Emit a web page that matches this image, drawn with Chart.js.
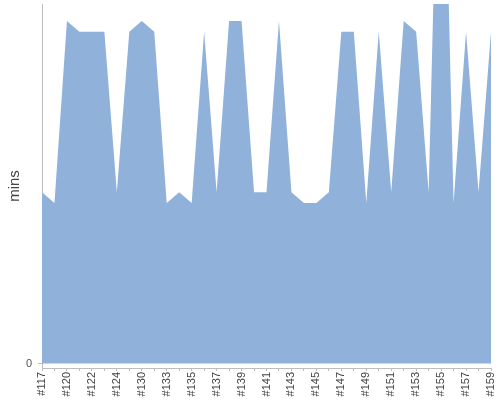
<!DOCTYPE html>
<html lang="en">
<head>
  <meta charset="UTF-8">
  <title>Build time trend</title>
  <script src="https://cdn.jsdelivr.net/npm/chart.js"></script>
  <style>
    html, body { margin: 0; padding: 0; background: #fff; }
    #wrap { width: 500px; height: 400px; }
  </style>
</head>
<body>
<div id="wrap">
  <canvas id="trendChart"></canvas>
</div>

<script>
  // build numbers (every other one is labelled on the axis)
  const builds = [
    '#117', '#118', '#120', '#121', '#122', '#123', '#124', '#128', '#130', '#131',
    '#133', '#134', '#135', '#136', '#137', '#138', '#139', '#140', '#141', '#142',
    '#143', '#144', '#145', '#146', '#147', '#148', '#149', '#150', '#151', '#152',
    '#153', '#154', '#155', '#156', '#157', '#158', '#159'
  ];

  // build duration in minutes (#155 runs off the top)
  const buildMins = [
    16, 15, 32, 31, 31, 31, 16, 31, 32, 31,
    15, 16, 15, 31, 16, 32, 32, 16, 16, 32,
    16, 15, 15, 16, 31, 31, 15, 31, 16, 32,
    31, 16, 63, 15, 31, 16, 31
  ];

  const yMin = -0.42;
  const yMax = 33.6;
  const yTicks = [0];

  const axisGray = '#bdbdbd';
  const textGray = '#444';

  const ctx = document.getElementById('trendChart').getContext('2d');
  const trendChart = new Chart(ctx, {
    type: 'line',
    data: {
      labels: builds,
      datasets: [{
        label: 'mins',
        data: buildMins,
        fill: 'origin',
        backgroundColor: '#8fb1da',
        borderWidth: 0,
        pointRadius: 0,
        tension: 0
      }]
    },
    options: {
      responsive: true,
      maintainAspectRatio: false,
      animation: false,
      layout: { padding: { top: 4, right: 9, bottom: 0, left: 0 } },
      plugins: {
        legend: { display: false },
        tooltip: { enabled: false }
      },
      scales: {
        x: {
          offset: false,
          grid: {
            display: true,
            drawOnChartArea: false,
            tickLength: 3,
            color: axisGray
          },
          border: { display: true, color: axisGray, width: 1 },
          ticks: {
            autoSkip: false,
            minRotation: 90,
            maxRotation: 90,
            padding: 1,
            color: textGray,
            font: { family: 'Liberation Sans, Arial, sans-serif', size: 11 },
            callback: function(value, index) {
              return index % 2 === 0 ? builds[index] : '';
            }
          },
          afterFit: function(scale) {
            scale.height = 32;
            scale.paddingLeft = 0;
            scale.paddingRight = 0;
          }
        },
        y: {
          min: yMin,
          max: yMax,
          afterBuildTicks: function(scale) {
            scale.ticks = yTicks.map(v => ({ value: v }));
          },
          grid: {
            display: true,
            drawOnChartArea: false,
            tickLength: 4,
            color: axisGray
          },
          border: { display: true, color: axisGray, width: 1 },
          ticks: {
            padding: 6,
            color: '#555',
            font: { family: 'Liberation Sans, Arial, sans-serif', size: 11 }
          },
          title: {
            display: true,
            text: 'mins',
            color: textGray,
            padding: { top: 6, bottom: 2 },
            font: { family: 'Liberation Sans, Arial, sans-serif', size: 15 }
          },
          afterFit: function(scale) {
            scale.width = 42;
            scale.paddingTop = 0;
            scale.paddingBottom = 0;
          }
        }
      }
    }
  });
</script>
</body>
</html>
